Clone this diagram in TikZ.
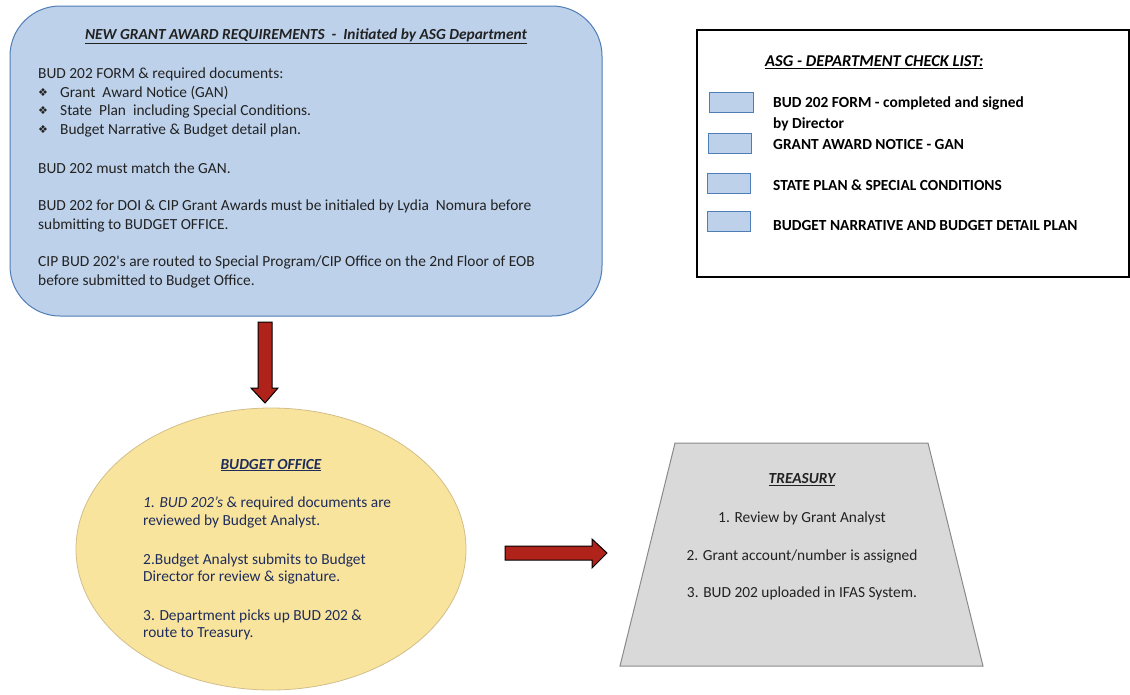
\documentclass[tikz,border=0pt]{standalone}
\usepackage{fontspec}
\setmainfont{Carlito}
\newfontfamily\dv{DejaVu Sans}
\definecolor{bluefill}{HTML}{BDD1EB}
\definecolor{blueline}{HTML}{4F7DB5}
\definecolor{yelfill}{HTML}{F9E49E}
\definecolor{yelline}{HTML}{D2BE8A}
\definecolor{grayfill}{HTML}{D9D9D9}
\definecolor{grayline}{HTML}{8A8A8A}
\definecolor{arrred}{HTML}{B0231A}
\definecolor{navy}{HTML}{1F2D5A}
\definecolor{txt}{HTML}{222222}
\tikzset{
  body/.style={anchor=west,inner sep=0pt,font=\fontsize{15.4}{18}\selectfont,text=txt},
  ctr/.style={anchor=center,inner sep=0pt,font=\fontsize{15.4}{18}\selectfont,text=txt},
  navytxt/.style={anchor=west,inner sep=0pt,font=\fontsize{15.4}{18}\selectfont,text=navy},
  chk/.style={anchor=west,inner sep=0pt,font=\bfseries\fontsize{15.4}{18}\selectfont,text=black},
  heading/.style={anchor=center,inner sep=0pt,font=\bfseries\itshape\fontsize{15.4}{18}\selectfont,text=txt},
  tick/.style={draw=blueline,fill=bluefill,line width=1pt},
  blockarrow/.style={draw=black,fill=arrred,line width=1pt,line join=miter}
}
\newcommand{\bul}{{\dv\fontsize{11}{14}\selectfont ❖}}
\begin{document}
\begin{tikzpicture}[x=1pt,y=-1pt]
\useasboundingbox (0,0) rectangle (1130,694);
% blue requirements box
\draw[draw=blueline,fill=bluefill,line width=1pt,rounded corners=50pt] (10,6) rectangle (602,316);
\node[heading] (reqtitle) at (306,36) {\underline{NEW GRANT AWARD REQUIREMENTS\ \ -\ \ Initiated by ASG Department}};
\node[body] (r1) at (38,74) {BUD 202 FORM \& required documents:};
\node[body] (b1) at (38,93) {\bul};
\node[body] (r2) at (60,93) {Grant\ \ Award Notice (GAN)};
\node[body] (b2) at (38,111) {\bul};
\node[body] (r3) at (60,111) {State\ \ Plan\ \ including Special Conditions.};
\node[body] (b3) at (38,130) {\bul};
\node[body] (r4) at (60,130) {Budget Narrative \& Budget detail plan.};
\node[body] (r5) at (38,168) {BUD 202 must match the GAN.};
\node[body] (r6) at (38,206) {BUD 202 for DOI \& CIP Grant Awards must be initialed by Lydia\ \ Nomura before};
\node[body] (r7) at (38,225) {submitting to BUDGET OFFICE.};
\node[body] (r8) at (38,262) {CIP BUD 202\textquotesingle s are routed to Special Program/CIP Office on the 2nd Floor of EOB};
\node[body] (r9) at (38,281) {before submitted to Budget Office.};
% check list
\draw[black,line width=2pt] (697,30) rectangle (1129,277);
\node[anchor=west,inner sep=0pt,font=\bfseries\itshape\fontsize{16.5}{18}\selectfont] (chktitle) at (765,62) {\underline{ASG - DEPARTMENT CHECK LIST:}};
\draw[tick] (709,92) rectangle (753,112);
\draw[tick] (708,133) rectangle (751,153);
\draw[tick] (707,173) rectangle (750,193);
\draw[tick] (707,211) rectangle (750,231);
\node[chk] (c1) at (773,103) {BUD 202 FORM - completed and signed};
\node[chk] (c1b) at (773,124) {by Director};
\node[chk] (c2) at (773,144) {GRANT AWARD NOTICE - GAN};
\node[chk] (c3) at (773,185) {STATE PLAN \& SPECIAL CONDITIONS};
\node[chk] (c4) at (773,226) {BUDGET NARRATIVE AND BUDGET DETAIL PLAN};
% down arrow
\draw[blockarrow] (258,322) -- (272,322) -- (272,388) -- (278,388) -- (265,403) -- (251,388) -- (258,388) -- cycle;
% budget office ellipse
\draw[draw=yelline,fill=yelfill,line width=0.8pt] (271,549) ellipse [x radius=195, y radius=141];
\node[heading,text=navy] (bo) at (271,465) {\underline{BUDGET OFFICE}};
\node[navytxt] (o1) at (143,503) {\textit{1. BUD 202's} \& required documents are};
\node[navytxt] (o2) at (143,521) {reviewed by Budget Analyst.};
\node[navytxt] (o3) at (143,560) {2.Budget Analyst submits to Budget};
\node[navytxt] (o4) at (143,578) {Director for review \& signature.};
\node[navytxt] (o5) at (143,616) {3. Department picks up BUD 202 \&};
\node[navytxt] (o6) at (143,634) {route to Treasury.};
% right arrow
\draw[blockarrow] (505,546) -- (592,546) -- (592,539) -- (607,553) -- (592,568) -- (592,560) -- (505,560) -- cycle;
% treasury trapezoid
\draw[draw=grayline,fill=grayfill,line width=1pt] (675,443) -- (928,443) -- (983,666) -- (620,666) -- cycle;
\node[heading] (tr) at (802,480) {\underline{TREASURY}};
\node[ctr] (t1) at (802,518) {1. Review by Grant Analyst};
\node[ctr] (t2) at (802,556) {2. Grant account/number is assigned};
\node[ctr] (t3) at (802,593) {3. BUD 202 uploaded in IFAS System.};
\end{tikzpicture}
\end{document}
